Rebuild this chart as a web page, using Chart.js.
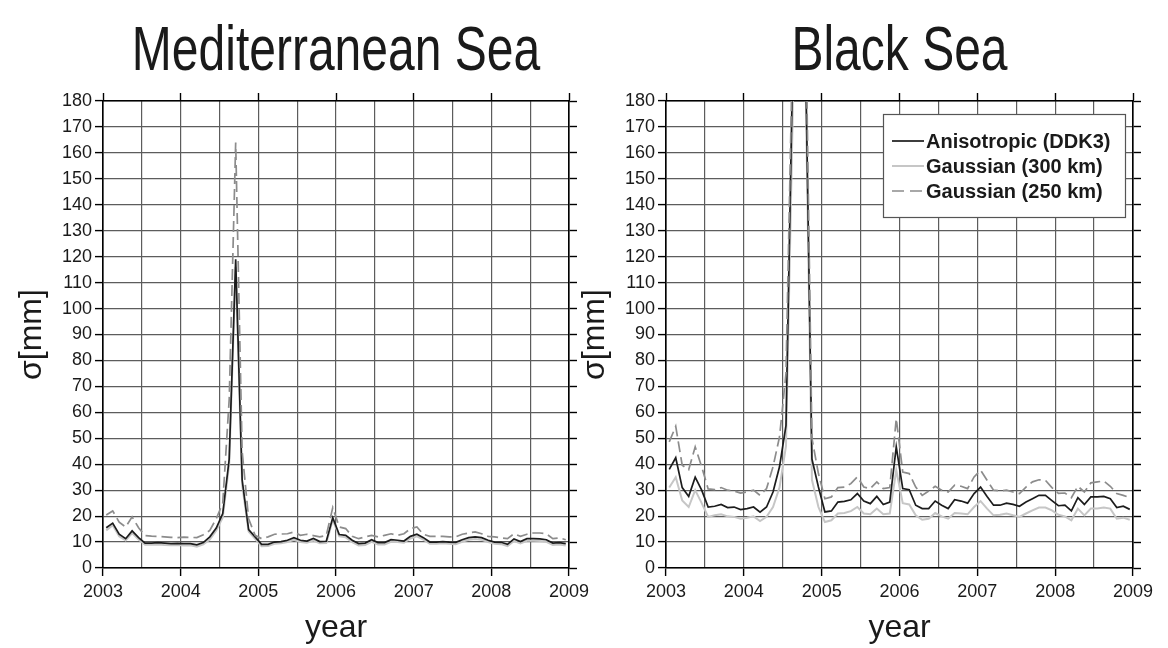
<!DOCTYPE html>
<html>
<head>
<meta charset="utf-8">
<script src="https://cdn.jsdelivr.net/npm/chart.js@4.4.0/dist/chart.umd.min.js"></script>
<style>
  html, body { margin: 0; padding: 0; background: #ffffff; }
  #wrap { position: relative; width: 1168px; height: 648px; overflow: hidden; }
  #wrap canvas { position: absolute; top: 0; }
</style>
</head>
<body>
<div id="wrap">
  <canvas id="med" width="600" height="648" style="left:0px"></canvas>
  <canvas id="black" width="608" height="648" style="left:560px"></canvas>
</div>
<script>
// Monthly solutions, January 2003 – December 2008
const months = [
  '2003-01','2003-02','2003-03','2003-04','2003-05','2003-06','2003-07','2003-08','2003-09','2003-10','2003-11','2003-12',
  '2004-01','2004-02','2004-03','2004-04','2004-05','2004-06','2004-07','2004-08','2004-09','2004-10','2004-11','2004-12',
  '2005-01','2005-02','2005-03','2005-04','2005-05','2005-06','2005-07','2005-08','2005-09','2005-10','2005-11','2005-12',
  '2006-01','2006-02','2006-03','2006-04','2006-05','2006-06','2006-07','2006-08','2006-09','2006-10','2006-11','2006-12',
  '2007-01','2007-02','2007-03','2007-04','2007-05','2007-06','2007-07','2007-08','2007-09','2007-10','2007-11','2007-12',
  '2008-01','2008-02','2008-03','2008-04','2008-05','2008-06','2008-07','2008-08','2008-09','2008-10','2008-11','2008-12'
];

// Mediterranean Sea, sigma [mm]
const medDDK3 = [
  15.5, 17.3, 13.0, 11.3, 14.3, 11.7,  9.6,  9.6,  9.8,  9.6,  9.4,  9.5,
   9.4,  9.4,  8.9,  9.8, 12.0, 15.4, 21.0, 42.0,119.0, 34.0, 14.8, 12.0,
   9.1,  9.1, 10.0, 10.2, 10.7, 11.7, 10.7, 10.4, 11.4, 10.2, 10.3, 19.4,
  12.9, 12.6, 10.7,  9.4,  9.6, 10.9,  9.8,  9.8, 10.9, 10.7, 10.4, 12.2,
  13.0, 11.7, 10.0, 10.0, 10.2, 10.0,  9.9, 10.9, 11.7, 12.0, 11.7, 10.7,
  10.0,  9.9,  9.1, 11.2, 10.2, 11.3, 11.3, 11.2, 10.9,  9.6,  9.8,  9.4
];
const medG300 = [
  14.5, 16.5, 12.2, 10.6, 13.5, 11.0,  9.0,  9.0,  9.1,  8.9,  8.8,  8.9,
   8.7,  8.8,  8.2,  9.1, 11.0, 14.5, 19.5, 40.0,116.0, 32.0, 14.0, 11.2,
   8.4,  8.5,  9.3,  9.5, 10.0, 10.9, 10.0,  9.7, 10.6,  9.5,  9.6, 18.5,
  12.2, 11.8, 10.0,  8.7,  8.9, 10.1,  9.1,  9.1, 10.1, 10.0,  9.7, 11.4,
  12.2, 10.9,  9.3,  9.3,  9.5,  9.3,  9.2, 10.1, 10.9, 11.2, 10.9, 10.0,
   9.3,  9.2,  8.4, 10.4,  9.5, 10.5, 10.5, 10.4, 10.1,  8.9,  9.1,  8.7
];
const medG250 = [
  20.4, 22.0, 17.7, 15.8, 19.7, 15.5, 12.5, 12.3, 12.2, 12.0, 11.8, 11.7,
  11.9, 11.8, 11.7, 12.8, 14.5, 19.0, 25.0, 65.0,164.0, 45.0, 19.0, 12.6,
  11.3, 12.0, 13.0, 13.1, 13.2, 13.9, 12.6, 13.0, 12.5, 12.0, 12.5, 23.3,
  15.8, 15.2, 12.2, 11.3, 12.0, 12.6, 12.0, 12.6, 13.2, 12.6, 13.2, 15.2,
  15.8, 13.0, 12.2, 12.2, 12.2, 12.0, 12.0, 13.0, 13.5, 13.9, 13.2, 12.2,
  12.0, 11.6, 11.3, 13.2, 12.2, 13.0, 13.5, 13.5, 13.2, 11.3, 11.6, 10.9
];

// Black Sea, sigma [mm]
const bsDDK3 = [
  38.0, 42.5, 31.0, 27.6, 35.0, 30.0, 23.5, 23.8, 24.5, 23.3, 23.5, 22.5,
  22.9, 23.5, 21.5, 23.5, 29.3, 39.0, 55.0,190.0,420.0,200.0, 42.0, 31.2,
  21.6, 22.0, 25.4, 25.7, 26.3, 28.7, 25.8, 24.8, 27.6, 24.5, 25.4, 46.7,
  30.6, 30.2, 24.2, 22.9, 22.9, 25.8, 24.2, 22.9, 26.3, 25.8, 25.0, 28.7,
  31.2, 27.6, 24.2, 24.2, 25.0, 24.5, 23.8, 25.4, 26.7, 28.0, 28.0, 26.0,
  24.0, 24.2, 22.0, 27.1, 24.5, 27.4, 27.4, 27.6, 26.7, 23.3, 23.8, 22.6
];
const bsG300 = [
  31.0, 35.0, 26.0, 23.5, 30.0, 25.0, 19.7, 20.3, 20.7, 19.9, 19.7, 19.0,
  19.4, 19.9, 18.1, 19.7, 23.5, 31.0, 47.0,170.0,400.0,190.0, 34.0, 23.5,
  17.7, 18.4, 21.0, 21.2, 21.9, 23.5, 21.0, 20.7, 22.9, 20.7, 21.0, 37.7,
  25.0, 24.5, 20.3, 18.6, 19.0, 21.2, 19.9, 19.0, 21.2, 21.0, 20.7, 23.5,
  25.8, 22.9, 20.3, 20.5, 21.0, 20.3, 19.7, 21.0, 22.2, 23.3, 23.3, 22.2,
  20.5, 19.9, 18.4, 22.9, 20.3, 22.9, 22.9, 23.3, 22.9, 19.0, 19.4, 18.6
];
const bsG250 = [
  48.6, 54.6, 39.6, 37.9, 46.7, 39.0, 30.5, 30.2, 31.0, 30.0, 29.7, 28.9,
  29.3, 30.0, 28.0, 30.6, 39.0, 50.5, 75.0,200.0,450.0,220.0, 50.0, 36.4,
  26.7, 27.4, 31.0, 31.2, 32.5, 35.1, 31.2, 30.6, 33.2, 30.6, 31.0, 57.6,
  37.0, 36.4, 31.2, 28.0, 29.7, 31.5, 30.0, 29.3, 31.9, 31.5, 30.6, 35.1,
  37.7, 33.8, 30.0, 29.7, 30.0, 29.3, 28.7, 31.2, 33.2, 34.0, 33.8, 31.0,
  28.8, 28.9, 27.1, 31.5, 29.3, 32.8, 33.2, 33.5, 31.5, 28.7, 28.0, 27.1
];

const seriesNames = ['Anisotropic (DDK3)', 'Gaussian (300 km)', 'Gaussian (250 km)'];
const yearTicks = [2003, 2004, 2005, 2006, 2007, 2008, 2009];
const sigmaMax = 180;
const sigmaStep = 10;

const FONT = '"Liberation Sans", Arial, Helvetica, sans-serif';
const GRID = '#5c5c5c';

// decimal year at the middle of each month
const monthX = months.map(m => {
  const [y, mo] = m.split('-').map(Number);
  return y + (mo - 0.5) / 12;
});
const toPoints = vals => vals.map((v, i) => ({ x: monthX[i], y: v }));

const styles = [
  { borderColor: '#1c1c1c', borderWidth: 1.7, borderDash: [], order: 1 },
  { borderColor: '#c6c6c6', borderWidth: 2.0, borderDash: [], order: 2 },
  { borderColor: '#8c8c8c', borderWidth: 1.7, borderDash: [11, 5], order: 0 }
];

const panelText = {
  id: 'panelText',
  afterDraw(chart, args, opts) {
    const { ctx, chartArea: a } = chart;
    const cx = (a.left + a.right) / 2;
    ctx.save();
    ctx.fillStyle = '#1a1a1a';
    ctx.textAlign = 'center';
    ctx.textBaseline = 'alphabetic';
    // panel heading, set in a tall condensed style
    ctx.save();
    ctx.translate(cx, 70);
    ctx.scale(1, 1.3);
    ctx.font = '48px ' + FONT;
    ctx.fillText(opts.title, 0, 0);
    ctx.restore();
    ctx.font = '32px ' + FONT;
    ctx.fillText('year', cx, 637);
    ctx.translate(a.left - 62, (a.top + a.bottom) / 2);
    ctx.rotate(-Math.PI / 2);
    ctx.fillText('σ[mm]', 0, 0);
    ctx.restore();

    if (opts.legend) {
      const bx = opts.legend.x, by = opts.legend.y, bw = opts.legend.w, bh = opts.legend.h;
      ctx.save();
      ctx.fillStyle = '#ffffff';
      ctx.fillRect(bx, by, bw, bh);
      ctx.strokeStyle = '#555555';
      ctx.lineWidth = 1.2;
      ctx.strokeRect(bx + 0.5, by + 0.5, bw, bh);
      ctx.font = 'bold 20px ' + FONT;
      ctx.textAlign = 'left';
      ctx.textBaseline = 'middle';
      chart.data.datasets.forEach((ds, i) => {
        const ry = by + 27 + i * 25;
        ctx.beginPath();
        ctx.strokeStyle = ds.borderColor;
        ctx.lineWidth = ds.borderWidth;
        ctx.setLineDash(i === 2 ? [12, 6] : []);
        ctx.moveTo(bx + 9, ry);
        ctx.lineTo(bx + 41, ry);
        ctx.stroke();
        ctx.setLineDash([]);
        ctx.fillStyle = '#1a1a1a';
        ctx.fillText(ds.label, bx + 43, ry + 1);
      });
      ctx.restore();
    }
  }
};

function yearTickColor(c) {
  return Number.isInteger(c.tick.value) ? '#000000' : 'rgba(0,0,0,0)';
}

function makePanel(canvasId, values, title, leftW, rightW, legend) {
  const xBase = {
    type: 'linear', min: yearTicks[0], max: yearTicks[yearTicks.length - 1],
    border: { color: '#000000', width: 1.6 }
  };
  const yBase = {
    type: 'linear', min: 0, max: sigmaMax,
    border: { color: '#000000', width: 1.6 }
  };
  const fixPad = s => { s.paddingLeft = 0; s.paddingRight = 0; s.paddingTop = 0; s.paddingBottom = 0; };
  return new Chart(document.getElementById(canvasId), {
    type: 'line',
    data: {
      datasets: values.map((v, i) => ({
        label: seriesNames[i],
        data: toPoints(v),
        borderColor: styles[i].borderColor,
        borderWidth: styles[i].borderWidth,
        borderDash: styles[i].borderDash,
        order: styles[i].order,
        pointRadius: 0,
        tension: 0,
        fill: false
      }))
    },
    options: {
      responsive: false,
      animation: false,
      events: [],
      layout: { padding: 0 },
      plugins: {
        legend: { display: false },
        tooltip: { enabled: false },
        panelText: { title: title, legend: legend }
      },
      scales: {
        x: Object.assign({}, xBase, {
          position: 'bottom',
          ticks: {
            stepSize: 0.5, autoSkip: false, maxRotation: 0, minRotation: 0,
            padding: 5, color: '#1a1a1a', font: { family: FONT, size: 18 },
            callback: v => (Number.isInteger(v) ? String(v) : '')
          },
          grid: { color: GRID, lineWidth: 1.2, tickLength: 8, tickColor: yearTickColor, tickWidth: 1.4 },
          afterFit: s => { s.height = 80; fixPad(s); }
        }),
        x2: Object.assign({}, xBase, {
          position: 'top',
          ticks: { stepSize: 0.5, autoSkip: false, display: false },
          grid: { drawOnChartArea: false, tickLength: 8, tickColor: yearTickColor, tickWidth: 1.4 },
          afterFit: s => { s.height = 101; fixPad(s); }
        }),
        y: Object.assign({}, yBase, {
          position: 'left',
          ticks: { stepSize: sigmaStep, padding: 3, color: '#1a1a1a', font: { family: FONT, size: 18 } },
          grid: { color: GRID, lineWidth: 1.2, tickLength: 8, tickColor: '#000000', tickWidth: 1.4 },
          afterFit: s => { s.width = leftW; fixPad(s); }
        }),
        y2: Object.assign({}, yBase, {
          position: 'right',
          ticks: { stepSize: sigmaStep, display: false },
          grid: { drawOnChartArea: false, tickLength: 8, tickColor: '#000000', tickWidth: 1.4 },
          afterFit: s => { s.width = rightW; fixPad(s); }
        })
      }
    },
    plugins: [panelText]
  });
}

makePanel('med', [medDDK3, medG300, medG250], 'Mediterranean Sea', 103, 31, null);
makePanel('black', [bsDDK3, bsG300, bsG250], 'Black Sea', 106, 35, { x: 323, y: 114, w: 242, h: 103 });
</script>
</body>
</html>
